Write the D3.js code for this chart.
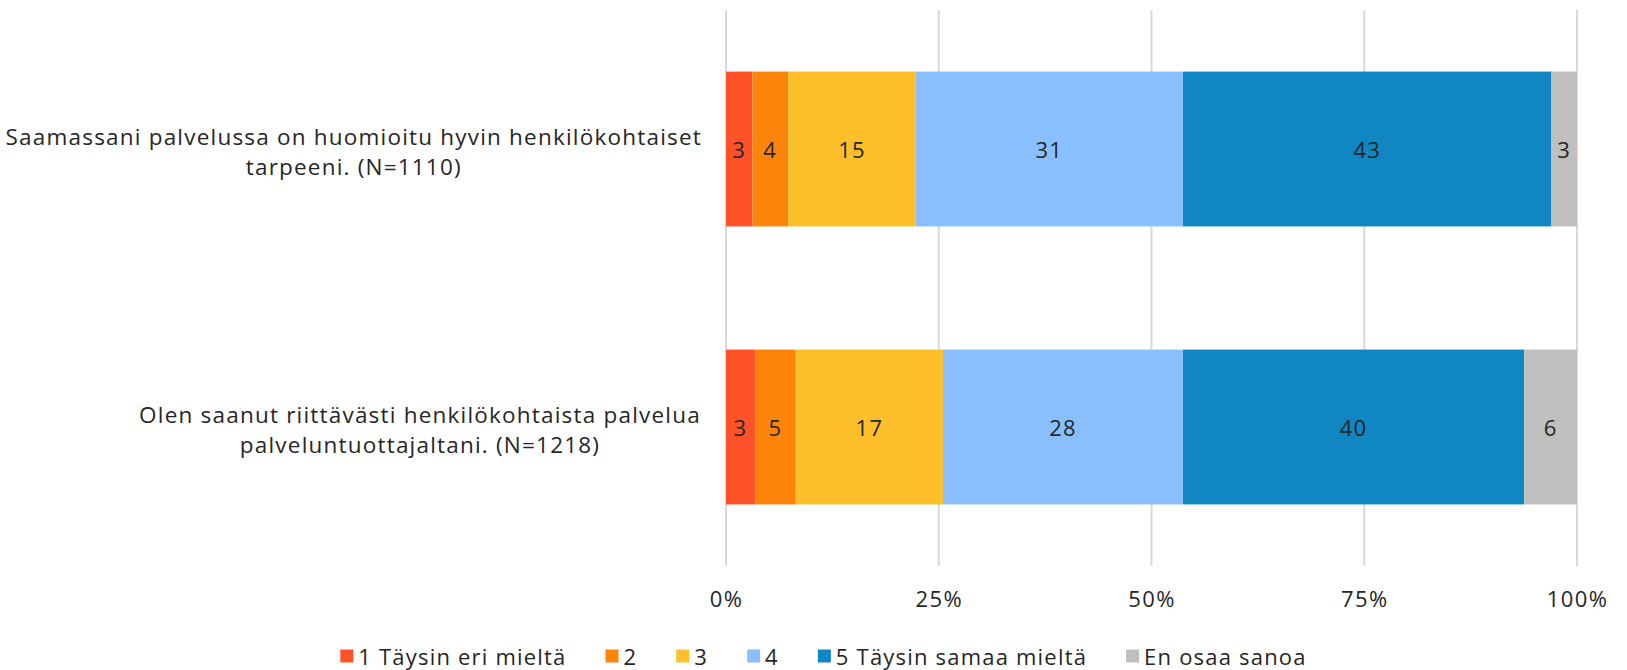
<!DOCTYPE html>
<html><head><meta charset="utf-8">
<script src="https://cdn.jsdelivr.net/npm/d3@7/dist/d3.min.js"></script>
<style>body{margin:0;background:#fff}svg{display:block}text{font-family:"Open Sans",sans-serif;fill:#262626;letter-spacing:1.2px}</style>
</head><body><svg id="c" width="1627" height="670"></svg>
<script>
const categories = [
  ["Saamassani palvelussa on huomioitu hyvin henkilökohtaiset", "tarpeeni. (N=1110)"],
  ["Olen saanut riittävästi henkilökohtaista palvelua", "palveluntuottajaltani. (N=1218)"]
];
const seriesNames = ["1 Täysin eri mieltä", "2", "3", "4", "5 Täysin samaa mieltä", "En osaa sanoa"];
const seriesColors = ["#ff5229", "#fd850a", "#fdbf2a", "#8abfff", "#1086c2", "#bfbfbf"];
const values1 = [3.1, 4.2, 15.0, 31.4, 43.3, 3.0];
const values2 = [3.4, 4.8, 17.3, 28.2, 40.1, 6.2];
const tickValues = [0, 0.25, 0.5, 0.75, 1];
const tickLabels = ["0%", "25%", "50%", "75%", "100%"];

const rows = [values1, values2];
const svg = d3.select("#c");
const x = d3.scaleLinear().domain([0, 1]).range([726, 1577]);
const y = d3.scaleBand().domain(d3.range(categories.length)).range([10, 566]).paddingInner(0.443).paddingOuter(0.2215);

// gridlines
svg.append("g").selectAll("line").data(tickValues).join("line")
  .attr("x1", d => x(d)).attr("x2", d => x(d)).attr("y1", 10).attr("y2", 566)
  .attr("stroke", "#d9d9d9").attr("stroke-width", 2);

// axis labels
const ax = svg.append("g").attr("transform", "translate(0,578)")
  .call(d3.axisBottom(x).tickValues(tickValues).tickFormat((d, i) => tickLabels[i]).tickSize(0).tickPadding(10));
ax.select(".domain").remove();
ax.selectAll("text").attr("font-size", 22).style("font-family", "'Open Sans',sans-serif").style("letter-spacing", "1.4px").attr("fill", "#262626").attr("dy", "0.85em");

// bars
rows.forEach((vals, ri) => {
  const total = d3.sum(vals);
  let cum = 0;
  const segs = vals.map((v, si) => { const s = {v, si, x0: cum / total, x1: (cum + v) / total}; cum += v; return s; });
  const g = svg.append("g");
  g.selectAll("rect").data(segs).join("rect")
    .attr("x", d => x(d.x0)).attr("width", d => x(d.x1) - x(d.x0))
    .attr("y", y(ri)).attr("height", y.bandwidth())
    .attr("fill", d => seriesColors[d.si]);
  g.selectAll("text").data(segs).join("text")
    .attr("x", d => (x(d.x0) + x(d.x1)) / 2).attr("y", y(ri) + y.bandwidth() / 2)
    .attr("text-anchor", "middle").attr("dominant-baseline", "central")
    .attr("font-size", 22).text(d => Math.round(d.v));
});

// category labels
categories.forEach((lines, ci) => {
  const cy = y(ci) + y.bandwidth() / 2 + 2;
  const texts = lines.map(ln => svg.append("text").attr("font-size", 22.5).attr("dominant-baseline", "central")
      .attr("text-anchor", "middle").text(ln));
  const wmax = d3.max(texts, t => t.node().getComputedTextLength());
  const cx = Math.min(420, 702 - wmax / 2);
  texts.forEach((t, li) => {
    t.attr("x", cx).attr("y", cy + (li - (lines.length - 1) / 2) * 30);
  });
});

// legend
const lg = svg.append("g");
const items = seriesNames.map((n, i) => {
  const g = lg.append("g");
  g.append("rect").attr("width", 13).attr("height", 13).attr("y", -6.5).attr("fill", seriesColors[i]);
  const t = g.append("text").attr("x", 18).attr("font-size", 22).attr("dominant-baseline", "central").text(n);
  return {g, w: 18 + t.node().getComputedTextLength()};
});
const gap = 39;
const totalW = d3.sum(items, d => d.w) + gap * (items.length - 1);
let lx = 823.5 - totalW / 2;
items.forEach(it => { it.g.attr("transform", `translate(${lx},656)`); lx += it.w + gap; });
</script></body></html>
